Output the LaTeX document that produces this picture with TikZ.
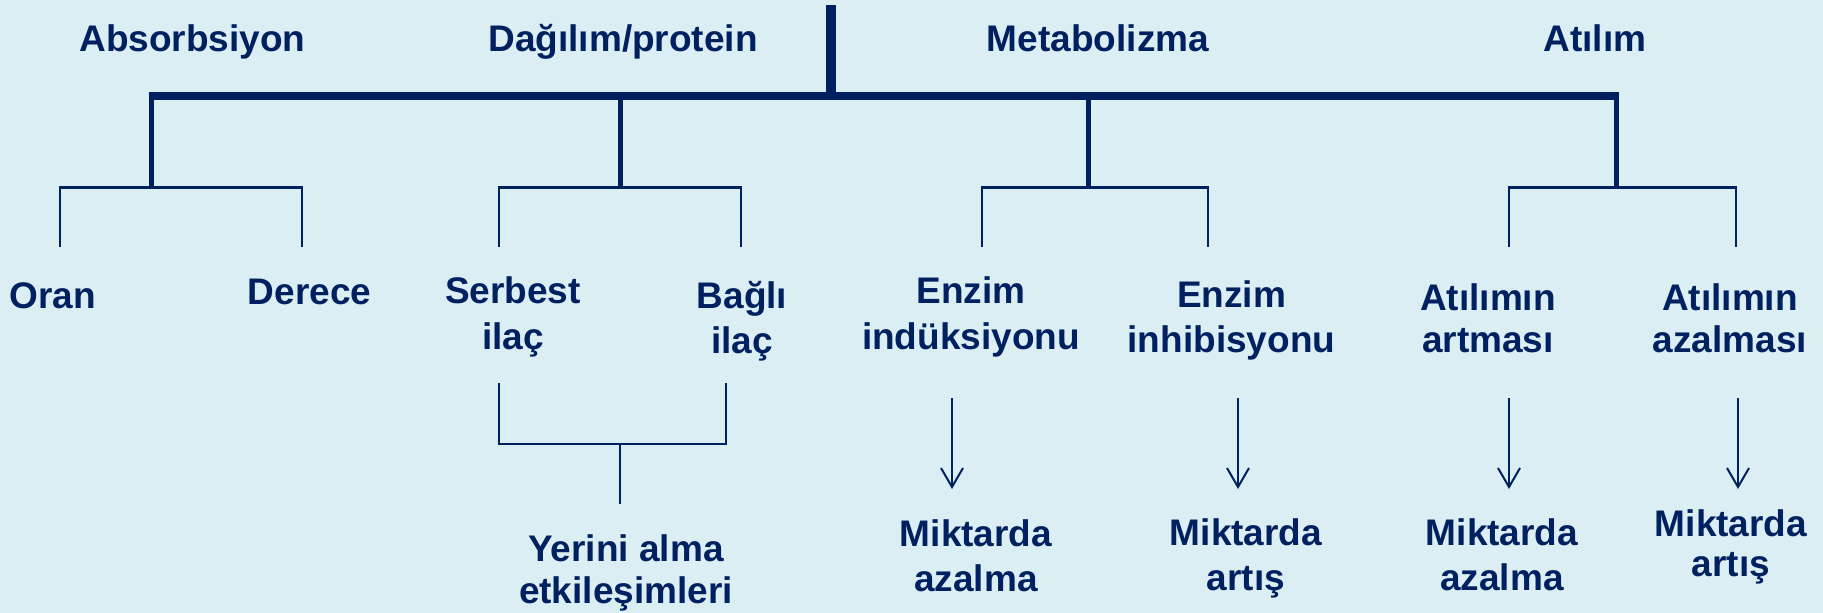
\documentclass[tikz,border=0pt]{standalone}
\usepackage{fontspec}
\setmainfont{Liberation Sans}
\usetikzlibrary{arrows.meta}
\definecolor{navy}{HTML}{002060}
\definecolor{bgc}{HTML}{DBEEF4}
\tikzset{
  lbl/.style={anchor=base, inner sep=0pt, text=navy, align=center,
    font=\bfseries\fontsize{37}{46}\selectfont},
  thickbar/.style={draw=navy, line width=8pt},
  stem/.style={draw=navy, line width=10pt},
  branch/.style={draw=navy, line width=5pt},
  sub/.style={draw=navy, line width=3pt},
  leaf/.style={draw=navy, line width=2pt},
  arr/.style={draw=navy, line width=2pt, -{Straight Barb[length=19pt,width=22pt,line width=2pt]}}
}
\begin{document}
\begin{tikzpicture}[x=1pt,y=-1pt]
\fill[bgc] (0,0) rectangle (1823,613);
\useasboundingbox (0,0) rectangle (1823,613);

% --- top labels
\node[lbl] (abs) at (192.5,51) {Absorbsiyon};
\node[lbl] (dag) at (623,51) {Dağılım/protein};
\node[lbl] (met) at (1098,51) {Metabolizma};
\node[lbl] (ati) at (1595,51) {Atılım};

% --- second-level labels (position = baseline of last line)
\node[lbl] (oran) at (52.5,308) {Oran};
\node[lbl] (der) at (309.5,304) {Derece};
\node[lbl] (serb) at (513,349) {Serbest\\ilaç};
\node[lbl,font=\bfseries\fontsize{37}{45}\selectfont] (bagl) at (742,353) {Bağlı\\ilaç};
\node[lbl] (eind) at (971,349) {Enzim\\indüksiyonu};
\node[lbl,font=\bfseries\fontsize{37}{45}\selectfont] (einh) at (1231.5,352) {Enzim\\inhibisyonu};
\node[lbl,font=\bfseries\fontsize{37}{42}\selectfont] (aart) at (1488,352) {Atılımın\\artması};
\node[lbl,font=\bfseries\fontsize{37}{42}\selectfont] (aaza) at (1730,352) {Atılımın\\azalması};

% --- bottom labels
\node[lbl,font=\bfseries\fontsize{37}{42}\selectfont] (yer) at (626,603) {Yerini alma\\etkileşimleri};
\node[lbl,font=\bfseries\fontsize{37}{45}\selectfont] (m1) at (976,591) {Miktarda\\azalma};
\node[lbl,font=\bfseries\fontsize{37}{45}\selectfont] (m2) at (1246,590) {Miktarda\\artış};
\node[lbl,font=\bfseries\fontsize{37}{45}\selectfont] (m3) at (1502,590) {Miktarda\\azalma};
\node[lbl,font=\bfseries\fontsize{37}{40}\selectfont] (m4) at (1731,576) {Miktarda\\artış};

% --- tree coordinates
\coordinate (top) at (831,5);
\coordinate (topj) at (831,96);
\coordinate (barL) at (148.5,96);
\coordinate (barR) at (1618.5,96);
\foreach \n/\x in {a/151,d/620,m/1088,t/1616}{
  \coordinate (\n0) at (\x,96);
  \coordinate (\n1) at (\x,187);
}
\foreach \n/\l/\r in {a/60/302,d/499/741,m/982/1208,t/1509/1736}{
  \coordinate (\n L) at (\l,187);
  \coordinate (\n R) at (\r,187);
  \coordinate (\n Ld) at (\l,247);
  \coordinate (\n Rd) at (\r,247);
}

\draw[stem] (top) -- (topj);
\draw[thickbar] (barL) -- (barR);
\foreach \n in {a,d,m,t}{
  \draw[branch] (\n0) -- (\n1);
  \draw[sub] ([xshift=-1pt]\n L) -- ([xshift=1pt]\n R);
  \draw[leaf] (\n L) -- (\n Ld);
  \draw[leaf] (\n R) -- (\n Rd);
}

% --- bracket under Serbest/Bağlı ilaç
\coordinate (bl) at (499,383);
\coordinate (blb) at (499,444);
\coordinate (br) at (726,383);
\coordinate (brb) at (726,444);
\coordinate (bc) at (620,444);
\coordinate (bcd) at (620,504);
\draw[leaf] (bl) -- (blb) -- (brb) -- (br);
\draw[leaf] (bc) -- (bcd);

% --- arrows
\foreach \n/\x in {1/952,2/1238,3/1509,4/1738}{
  \coordinate (s\n) at (\x,398);
  \coordinate (e\n) at (\x,489);
  \draw[arr] (s\n) -- (e\n);
}
\end{tikzpicture}
\end{document}
